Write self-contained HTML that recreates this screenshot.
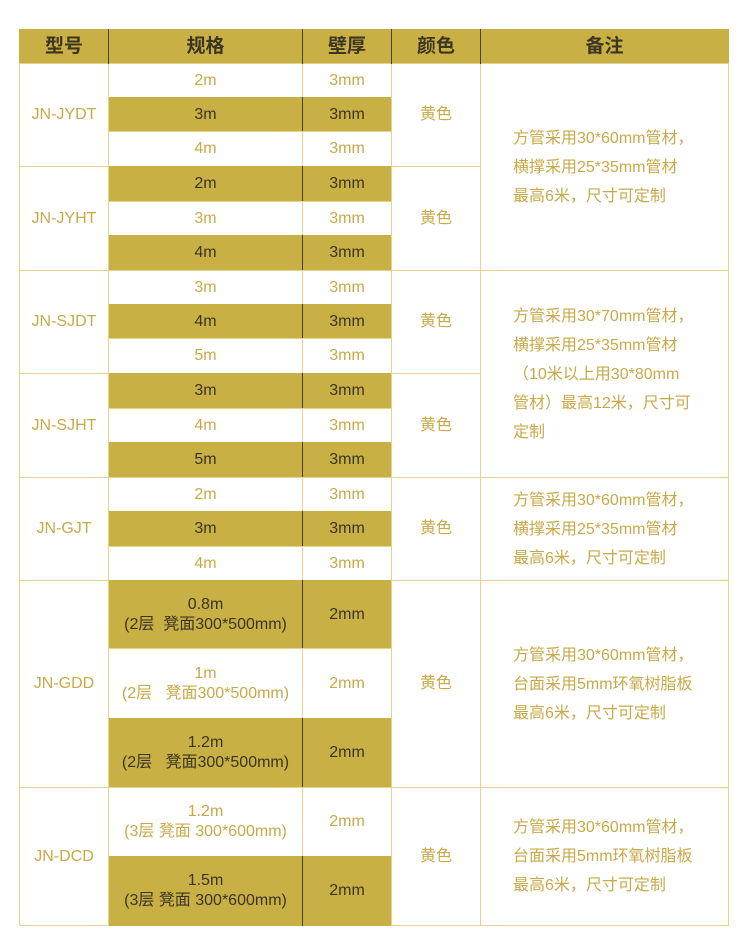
<!DOCTYPE html><html><head><meta charset="utf-8"><style>
body{margin:0;width:750px;height:952px;background:#fff;position:relative;font-family:"Liberation Sans","Noto Sans CJK SC",sans-serif;overflow:hidden}
.c{position:absolute;box-sizing:border-box;display:flex;align-items:center;justify-content:center;text-align:center;font-size:16px;color:#c8a948;border:1px solid #e6d18d;line-height:20px}
.g{background:#c9b045;color:#3b3522}
.h{background:#c9b045;color:#3b3522;font-size:19px;font-weight:bold;border-color:#c9b045}
.r{justify-content:flex-start;text-align:left;padding-left:32px;line-height:29px}
.l{position:absolute;width:1px;background:#4a4020}
</style></head><body>
<div class="c h" style="left:19px;top:29px;width:90px;height:35px">型号</div>
<div class="c h" style="left:108px;top:29px;width:195px;height:35px">规格</div>
<div class="c h" style="left:302px;top:29px;width:90px;height:35px">壁厚</div>
<div class="c h" style="left:391px;top:29px;width:90px;height:35px">颜色</div>
<div class="c h" style="left:480px;top:29px;width:249px;height:35px">备注</div>
<div id="t"></div>
<script>
var rows=[[63,97,0,'2m','3mm'],[97,131,1,'3m','3mm'],[131,166,0,'4m','3mm'],
[166,201,1,'2m','3mm'],[201,235,0,'3m','3mm'],[235,270,1,'4m','3mm'],
[270,304,0,'3m','3mm'],[304,338,1,'4m','3mm'],[338,373,0,'5m','3mm'],
[373,408,1,'3m','3mm'],[408,442,0,'4m','3mm'],[442,477,1,'5m','3mm'],
[477,511,0,'2m','3mm'],[511,546,1,'3m','3mm'],[546,580,0,'4m','3mm'],
[580,648,1,'0.8m<br>(2层&nbsp; 凳面300*500mm)','2mm'],[648,718,0,'1m<br>(2层&nbsp;&nbsp; 凳面300*500mm)','2mm'],[718,787,1,'1.2m<br>(2层&nbsp;&nbsp; 凳面300*500mm)','2mm'],
[787,856,0,'1.2m<br>(3层 凳面 300*600mm)','2mm'],[856,925,1,'1.5m<br>(3层 凳面 300*600mm)','2mm']];
var models=[[63,166,'JN-JYDT'],[166,270,'JN-JYHT'],[270,373,'JN-SJDT'],[373,477,'JN-SJHT'],[477,580,'JN-GJT'],[580,787,'JN-GDD'],[787,925,'JN-DCD']];
var rem=[[63,270,'方管采用30*60mm管材，<br>横撑采用25*35mm管材<br>最高6米，尺寸可定制'],[270,477,'方管采用30*70mm管材，<br>横撑采用25*35mm管材<br>（10米以上用30*80mm<br>管材）最高12米，尺寸可<br>定制'],[477,580,'方管采用30*60mm管材，<br>横撑采用25*35mm管材<br>最高6米，尺寸可定制'],[580,787,'方管采用30*60mm管材，<br>台面采用5mm环氧树脂板<br>最高6米，尺寸可定制'],[787,925,'方管采用30*60mm管材，<br>台面采用5mm环氧树脂板<br>最高6米，尺寸可定制']];
var h='';
function cell(x,y,w,hh,cls,txt,extra){return '<div class="c '+cls+'" style="left:'+x+'px;top:'+y+'px;width:'+w+'px;height:'+hh+'px;'+(extra||'')+'">'+txt+'</div>';}
rows.forEach(function(r){var cl=r[2]?'g':'';var ex=r[2]?'border-color:#c9b045;':'';
h+=cell(108,r[0],195,r[1]-r[0]+1,cl,r[3],ex);h+=cell(302,r[0],90,r[1]-r[0]+1,cl,r[4],ex);
if(r[2])h+='<div class="l" style="left:302px;top:'+r[0]+'px;height:'+(r[1]-r[0]+1)+'px"></div>';});
models.forEach(function(m){h+=cell(19,m[0],90,m[1]-m[0]+1,'',m[2]);h+=cell(391,m[0],90,m[1]-m[0]+1,'','黄色');});
rem.forEach(function(m){h+=cell(480,m[0],249,m[1]-m[0]+1,'r',m[2]);});
[108,302,391,480].forEach(function(x){h+='<div class="l" style="left:'+x+'px;top:29px;height:35px"></div>';});
document.getElementById('t').innerHTML=h;
</script>
</body></html>
